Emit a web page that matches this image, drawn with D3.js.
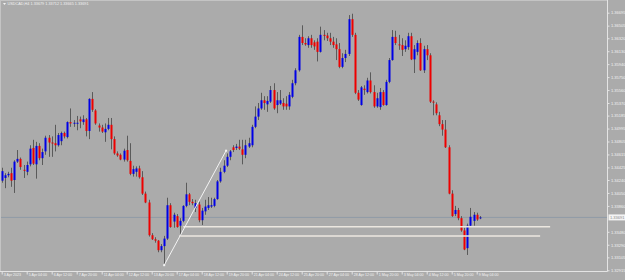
<!DOCTYPE html>
<html><head><meta charset="utf-8">
<script src="https://cdn.jsdelivr.net/npm/d3@7"></script>
<style>html,body{margin:0;padding:0;background:#ababab;overflow:hidden}</style>
</head><body>
<script>
// ---- data ----
const symbolTitle = "USDCAD,H4  1.33679 1.33712 1.33665 1.33691";
const timeLabels = ["3 Apr 2023","5 Apr 04:00","6 Apr 12:00","7 Apr 20:00","11 Apr 04:00","12 Apr 12:00","13 Apr 20:00","17 Apr 04:00","18 Apr 12:00","19 Apr 20:00","21 Apr 04:00","24 Apr 12:00","25 Apr 20:00","27 Apr 04:00","28 Apr 12:00","1 May 20:00","3 May 04:00","4 May 12:00","5 May 20:00","9 May 04:00"];
const timeLabelBars = [0,8,16,24,32,40,48,56,64,72,80,88,96,104,112,120,128,136,144,152];
const priceTicks = [1.36695,1.36505,1.36320,1.36130,1.35940,1.35750,1.35560,1.35370,1.35185,1.34995,1.34805,1.34615,1.34425,1.34240,1.34050,1.33860,1.33480,1.33290,1.33105,1.32915];
const open = [1.3423,1.3427,1.3431,1.3434,1.3424,1.3451,1.3455,1.3439,1.3436,1.3447,1.3471,1.3447,1.3474,1.3456,1.3466,1.3486,1.3479,1.3478,1.3475,1.3481,1.3493,1.3487,1.3509,1.3507,1.3507,1.3513,1.3509,1.3513,1.3496,1.3543,1.3526,1.3504,1.3501,1.3494,1.3499,1.3505,1.3484,1.3463,1.3461,1.3454,1.3468,1.3452,1.3433,1.3436,1.3441,1.3428,1.3404,1.3391,1.3343,1.3337,1.3335,1.3321,1.3327,1.3338,1.3387,1.3363,1.3371,1.3357,1.3364,1.3386,1.3403,1.3392,1.3383,1.3388,1.3365,1.3378,1.3383,1.3385,1.3386,1.3396,1.3422,1.3436,1.3445,1.3458,1.3472,1.3471,1.3473,1.3469,1.3461,1.3473,1.3475,1.3502,1.3517,1.3529,1.3541,1.3535,1.3539,1.3556,1.3534,1.3536,1.3537,1.3536,1.3532,1.3546,1.3566,1.3585,1.3634,1.3625,1.3622,1.3632,1.3626,1.3627,1.3612,1.3637,1.3636,1.3632,1.3627,1.3623,1.3616,1.3590,1.3603,1.3609,1.3660,1.3637,1.3552,1.3534,1.3558,1.3553,1.3570,1.3553,1.3532,1.3531,1.3553,1.3534,1.3568,1.3600,1.3634,1.3623,1.3622,1.3616,1.3619,1.3635,1.3601,1.3612,1.3625,1.3585,1.3616,1.3607,1.3539,1.3535,1.3519,1.3506,1.3498,1.3472,1.3404,1.3374,1.3380,1.3368,1.3350,1.3324,1.3357,1.3364,1.3373,1.33679];
const high = [1.3442,1.3434,1.3436,1.3442,1.3453,1.3468,1.3457,1.3446,1.3451,1.3475,1.3483,1.3480,1.3478,1.3470,1.3489,1.3490,1.3488,1.3505,1.3493,1.3495,1.3495,1.3510,1.3529,1.3512,1.3518,1.3517,1.3519,1.3515,1.3544,1.3553,1.3528,1.3507,1.3505,1.3507,1.3515,1.3515,1.3488,1.3466,1.3463,1.3470,1.3489,1.3478,1.3445,1.3444,1.3445,1.3437,1.3407,1.3395,1.3346,1.3340,1.3336,1.3330,1.3342,1.3398,1.3390,1.3376,1.3374,1.3368,1.3387,1.3420,1.3405,1.3396,1.3395,1.3392,1.3383,1.3395,1.3399,1.3398,1.3398,1.3424,1.3442,1.3453,1.3463,1.3468,1.3475,1.3477,1.3483,1.3483,1.3483,1.3486,1.3505,1.3532,1.3537,1.3552,1.3547,1.3547,1.3562,1.3566,1.3553,1.3556,1.3544,1.3547,1.3553,1.3571,1.3588,1.3637,1.3651,1.3632,1.3635,1.3637,1.3629,1.3632,1.3649,1.3644,1.3640,1.3640,1.3634,1.3632,1.3625,1.3610,1.3615,1.3666,1.3668,1.3640,1.3556,1.3562,1.3563,1.3574,1.3582,1.3563,1.3552,1.3559,1.3556,1.3571,1.3603,1.3644,1.3643,1.3637,1.3632,1.3629,1.3640,1.3640,1.3622,1.3629,1.3632,1.3621,1.3622,1.3610,1.3541,1.3538,1.3524,1.3512,1.3512,1.3475,1.3409,1.3386,1.3383,1.3371,1.3354,1.3360,1.3383,1.3377,1.3376,1.33712];
const low = [1.3420,1.3412,1.3428,1.3414,1.3405,1.3449,1.3439,1.3427,1.3431,1.3444,1.3446,1.3426,1.3453,1.3446,1.3461,1.3458,1.3458,1.3466,1.3473,1.3475,1.3485,1.3485,1.3502,1.3502,1.3497,1.3500,1.3505,1.3488,1.3484,1.3524,1.3505,1.3495,1.3493,1.3480,1.3497,1.3469,1.3461,1.3458,1.3453,1.3451,1.3451,1.3431,1.3429,1.3429,1.3426,1.3402,1.3390,1.3341,1.3336,1.3332,1.3318,1.3318,1.3299,1.3336,1.3354,1.3354,1.3354,1.3341,1.3362,1.3384,1.3387,1.3387,1.3377,1.3362,1.3358,1.3373,1.3380,1.3383,1.3384,1.3395,1.3420,1.3434,1.3443,1.3453,1.3465,1.3468,1.3468,1.3447,1.3456,1.3471,1.3472,1.3500,1.3512,1.3527,1.3527,1.3524,1.3537,1.3527,1.3522,1.3534,1.3527,1.3527,1.3527,1.3544,1.3563,1.3583,1.3622,1.3621,1.3618,1.3618,1.3615,1.3598,1.3611,1.3629,1.3628,1.3622,1.3618,1.3600,1.3588,1.3588,1.3597,1.3606,1.3634,1.3550,1.3540,1.3533,1.3549,1.3551,1.3551,1.3530,1.3530,1.3527,1.3533,1.3533,1.3566,1.3599,1.3622,1.3615,1.3606,1.3612,1.3615,1.3600,1.3581,1.3607,1.3584,1.3581,1.3600,1.3537,1.3519,1.3519,1.3503,1.3489,1.3471,1.3403,1.3370,1.3371,1.3365,1.3348,1.3321,1.3314,1.3355,1.3357,1.3364,1.33665];
const close = [1.3437,1.3431,1.3433,1.3423,1.3451,1.3455,1.3443,1.3438,1.3446,1.3470,1.3448,1.3474,1.3456,1.3465,1.3486,1.3479,1.3478,1.3475,1.3490,1.3493,1.3488,1.3509,1.3507,1.3508,1.3508,1.3510,1.3513,1.3496,1.3543,1.3527,1.3507,1.3501,1.3495,1.3499,1.3505,1.3484,1.3463,1.3460,1.3454,1.3467,1.3453,1.3433,1.3440,1.3441,1.3428,1.3404,1.3391,1.3343,1.3337,1.3335,1.3321,1.3327,1.3338,1.3387,1.3355,1.3373,1.3355,1.3364,1.3386,1.3403,1.3392,1.3390,1.3390,1.3365,1.3379,1.3385,1.3387,1.3387,1.3396,1.3422,1.3436,1.3445,1.3458,1.3466,1.3468,1.3473,1.3470,1.3461,1.3475,1.3478,1.3502,1.3517,1.3529,1.3541,1.3537,1.3540,1.3556,1.3529,1.3541,1.3541,1.3532,1.3532,1.3549,1.3566,1.3585,1.3634,1.3625,1.3623,1.3632,1.3622,1.3620,1.3612,1.3637,1.3636,1.3632,1.3627,1.3622,1.3616,1.3590,1.3603,1.3609,1.3660,1.3637,1.3552,1.3542,1.3560,1.3556,1.3570,1.3553,1.3532,1.3544,1.3553,1.3534,1.3568,1.3600,1.3634,1.3625,1.3622,1.3615,1.3621,1.3635,1.3601,1.3616,1.3625,1.3585,1.3616,1.3607,1.3539,1.3538,1.3522,1.3506,1.3498,1.3472,1.3404,1.3371,1.3380,1.3368,1.3350,1.3322,1.3357,1.3370,1.3373,1.3366,1.33691];
const lastPrice = 1.33691;
const levelPrices = [1.33555, 1.33419];
const levelStartBars = [58.1, 56.8];
const levelEndBars = [175.5, 172.3];
const trendBars = [52, 71.8];
const trendPrices = [1.3299, 1.3467];

// ---- drawing ----
const W = 625, H = 280;
const plotRight = 607.5, plotBottom = 271.5;
const svg = d3.select("body").append("svg").attr("width", W).attr("height", H).style("display","block");
svg.append("rect").attr("width", W).attr("height", H).attr("fill", "#ababab");

const x = d3.scaleLinear().domain([0, 152]).range([1.7, 1.7 + 152 * 3.125]);
const y = d3.scaleLinear().domain([1.32915, 1.36695]).range([270.3, 12.7]);

const bars = d3.range(open.length).map(i => ({i, o: open[i], h: high[i], l: low[i], c: close[i]}));

// current price line
svg.append("line").attr("x1", 0).attr("x2", plotRight).attr("y1", y(lastPrice)).attr("y2", y(lastPrice))
  .attr("stroke", "#8f9aa6").attr("stroke-width", 1);

const g = svg.append("g");
g.selectAll("line.wick").data(bars).join("line").attr("class","wick")
  .attr("x1", d => Math.round(x(d.i)) + 0.5).attr("x2", d => Math.round(x(d.i)) + 0.5)
  .attr("y1", d => y(d.h)).attr("y2", d => y(d.l))
  .attr("stroke", "#5a5a5a").attr("stroke-width", 1);
g.selectAll("rect.body").data(bars).join("rect").attr("class","body")
  .attr("x", d => Math.round(x(d.i)) - 0.5).attr("width", 2)
  .attr("y", d => Math.min(y(d.o), y(d.c)))
  .attr("height", d => Math.max(1, Math.abs(y(d.o) - y(d.c))))
  .attr("fill", d => d.c > d.o ? "#0000e6" : (d.c < d.o ? "#ee0000" : "#5a5a5a"));

// horizontal level lines
levelPrices.forEach((p, k) => {
  svg.append("line").attr("x1", x(levelStartBars[k])).attr("x2", x(levelEndBars[k]))
    .attr("y1", y(p)).attr("y2", y(p)).attr("stroke", "#ece7e0").attr("stroke-width", 1.6);
});
// trend line
svg.append("line").attr("x1", x(trendBars[0])).attr("y1", y(trendPrices[0]))
  .attr("x2", x(trendBars[1])).attr("y2", y(trendPrices[1]))
  .attr("stroke", "#f4f4f4").attr("stroke-width", 1);
trendBars.forEach((b, k) => {
  svg.append("rect").attr("x", x(b) - 1).attr("y", y(trendPrices[k]) - 1).attr("width", 2).attr("height", 2).attr("fill", "#f4f4f4");
});

// frame
const frameColor = "#e4e4e4";
svg.append("line").attr("x1", 0.5).attr("x2", 0.5).attr("y1", 0).attr("y2", plotBottom).attr("stroke", "#c4c4c4");
svg.append("line").attr("x1", 0).attr("x2", plotRight).attr("y1", 0.5).attr("y2", 0.5).attr("stroke", "#c4c4c4");
svg.append("line").attr("x1", plotRight).attr("x2", plotRight).attr("y1", 0).attr("y2", plotBottom).attr("stroke", frameColor);
svg.append("line").attr("x1", 0).attr("x2", plotRight).attr("y1", plotBottom).attr("y2", plotBottom).attr("stroke", frameColor);

// price axis
const yAxis = d3.axisRight(y).tickValues(priceTicks).tickSize(2).tickPadding(1.5).tickFormat(d3.format(".5f"));
const ya = svg.append("g").attr("transform", `translate(${plotRight},0)`).call(yAxis);
ya.select(".domain").remove();
ya.selectAll("line").attr("stroke", frameColor);
ya.selectAll("text").attr("fill", "#f2f2f2").style("font-family", "Liberation Sans, Arial, sans-serif").style("font-size", "4px");

// last price label
svg.append("rect").attr("x", plotRight + 1).attr("y", y(lastPrice) - 3).attr("width", 17).attr("height", 6).attr("fill", "#f4f4f4");
svg.append("text").attr("x", plotRight + 2.5).attr("y", y(lastPrice)).attr("dy", "0.35em")
  .attr("fill", "#8a8a8a").style("font-family", "Liberation Sans, Arial, sans-serif").style("font-size", "4px").text(d3.format(".5f")(lastPrice));

// time axis
const xAxis = d3.axisBottom(x).tickValues(timeLabelBars).tickSize(3).tickFormat((d, i) => timeLabels[i]);
const xa = svg.append("g").attr("transform", `translate(0,${plotBottom})`).call(xAxis);
xa.select(".domain").remove();
xa.selectAll("line").attr("stroke", frameColor);
xa.selectAll("text").attr("fill", "#f2f2f2").attr("text-anchor", "start").attr("dx", 1.5).attr("y", 2).attr("dy", "0.71em")
  .style("font-family", "Liberation Sans, Arial, sans-serif").style("font-size", "3.6px");

// title
svg.append("path").attr("d", "M3,3 L6,3 L4.5,5 Z").attr("fill", "#f2f2f2");
svg.append("text").attr("x", 7.5).attr("y", 4).attr("dy", "0.35em").attr("fill", "#f2f2f2")
  .style("font-family", "Liberation Sans, Arial, sans-serif").style("font-size", "3.8px").text(symbolTitle);
</script>
</body></html>
